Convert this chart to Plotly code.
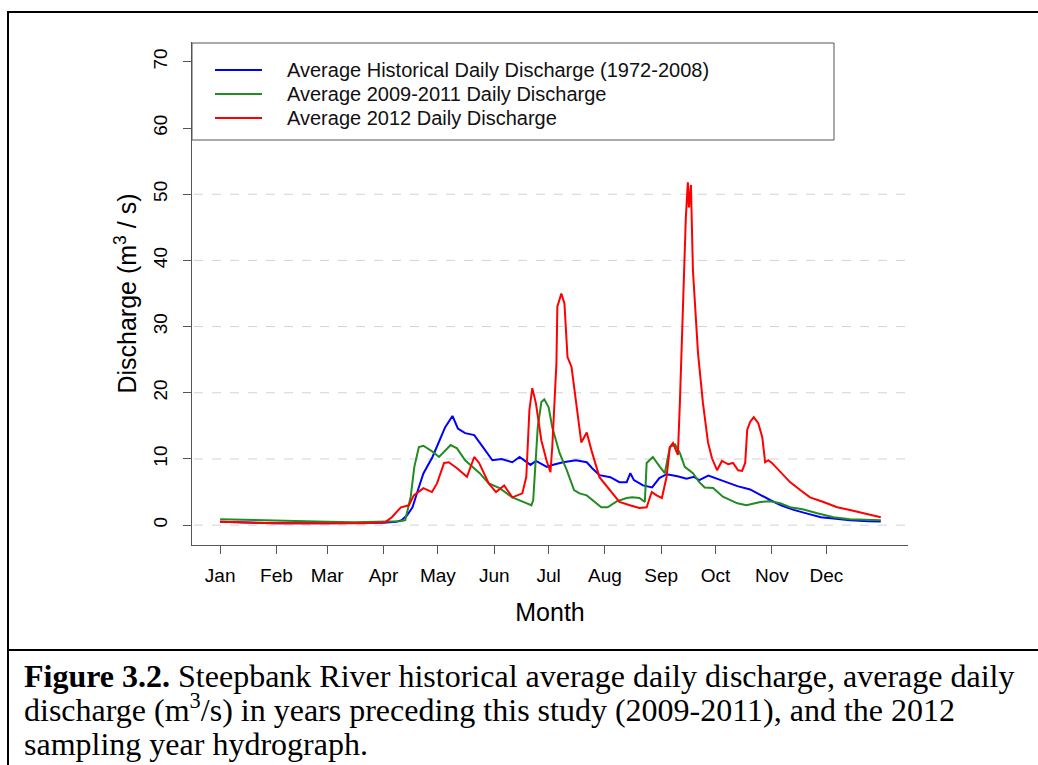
import plotly.graph_objects as go

# ---------------- data (day of year, discharge m3/s) ----------------
month_ticks = [1, 32, 60, 91, 121, 152, 182, 213, 244, 274, 305, 335]
month_labels = ["Jan", "Feb", "Mar", "Apr", "May", "Jun", "Jul", "Aug", "Sep", "Oct", "Nov", "Dec"]
y_ticks = [0, 10, 20, 30, 40, 50, 60, 70]
grid_levels = [0, 10, 20, 30, 40, 50]

hist_days = [1, 15, 32, 60, 80, 91, 98, 101, 104, 107, 110, 113, 118, 122, 125, 129, 132, 136, 141,
             145, 148, 151, 156, 162, 166, 170, 172, 175, 181, 184, 190, 197, 203, 206, 210, 216,
             221, 225, 227, 229, 234, 239, 243, 247, 253, 258, 262, 265, 270, 275, 280, 286, 293,
             299, 304, 310, 317, 325, 332, 339, 348, 358, 365]
hist_vals = [0.5, 0.4, 0.3, 0.3, 0.3, 0.35, 0.5, 0.75, 1.5, 2.7, 5.3, 7.8, 10.3, 12.8, 14.8, 16.5,
             14.6, 13.9, 13.6, 12.1, 10.9, 9.8, 10.0, 9.5, 10.3, 9.5, 9.1, 9.7, 8.8, 9.1, 9.5, 9.8,
             9.5, 8.6, 7.55, 7.25, 6.5, 6.5, 7.85, 6.8, 6.0, 5.7, 7.1, 7.7, 7.4, 7.0, 7.3, 6.8, 7.5,
             7.0, 6.5, 5.9, 5.4, 4.5, 3.8, 3.0, 2.3, 1.7, 1.2, 1.0, 0.75, 0.6, 0.55]

avg0911_days = [1, 27, 50, 60, 75, 92, 100, 103, 106, 108, 110.5, 113, 118, 121.6, 125, 128, 131.5,
                136, 144, 149, 155, 162, 170, 172.5, 173.5, 174.5, 176, 178, 179.6, 182, 184, 188,
                192, 196, 199, 203, 206, 211, 214.5, 219.5, 225, 228, 232, 235, 236, 239.4, 243.3,
                246, 248.8, 251.6, 254.3, 257, 261.5, 265, 268, 272.6, 278, 286, 291, 298.6, 304,
                309.6, 315, 322, 330, 339, 348, 363, 365]
avg0911_vals = [0.9, 0.7, 0.6, 0.5, 0.45, 0.5, 0.6, 0.75, 4.3, 8.8, 11.8, 12.0, 11.1, 10.3, 11.3,
                12.1, 11.6, 9.8, 7.85, 6.3, 5.6, 4.2, 3.3, 3.0, 3.8, 8.8, 14.8, 18.6, 19.0, 17.8,
                14.8, 10.9, 8.3, 5.3, 4.8, 4.5, 3.8, 2.7, 2.7, 3.6, 4.1, 4.2, 4.1, 3.5, 9.4, 10.3,
                8.8, 7.85, 11.8, 12.2, 10.9, 8.8, 7.85, 6.5, 5.7, 5.6, 4.3, 3.3, 3.0, 3.5, 3.6, 3.3,
                2.7, 2.4, 1.8, 1.2, 0.9, 0.75, 0.75]

y2012_days = [1, 15, 32, 60, 80, 92, 95.6, 100.6, 105, 107.7, 113, 117.7, 120.5, 124.4, 127, 131.5,
              137, 141, 143.7, 149, 153, 157.5, 162, 167.5, 169.7, 171.4, 173, 175, 178, 180.8, 183,
              184, 186.3, 186.8, 189, 190.7, 192.4, 194.6, 197.4, 200, 203, 205.6, 210, 215.6, 221,
              226.7, 232, 236, 238.8, 241.5, 244.4, 247, 248.8, 250.5, 253.2, 254.3, 256, 257.6,
              258.7, 259.3, 260.4, 261.5, 264.3, 267, 269.8, 272, 274.8, 277.5, 280.9, 283.6, 286.4,
              288.6, 290.3, 291.4, 293, 295, 297.5, 299.7, 301.3, 303, 305, 309.6, 315, 320.6, 326,
              333.4, 341, 348, 357.7, 365]
y2012_vals = [0.5, 0.4, 0.3, 0.3, 0.3, 0.45, 1.2, 2.7, 3.0, 4.5, 5.6, 5.0, 6.3, 9.4, 9.5, 8.6, 7.3,
              10.3, 9.4, 6.3, 5.0, 6.0, 4.2, 4.8, 7.3, 17.4, 20.7, 18.4, 12.8, 9.8, 8.0, 11.8, 24.5,
              33.0, 35.0, 33.5, 25.4, 23.9, 18.4, 12.5, 14.0, 11.3, 7.25, 5.3, 3.5, 3.0, 2.6, 2.7,
              5.0, 4.5, 4.1, 7.3, 11.8, 12.4, 10.6, 18.4, 32.5, 46.5, 51.8, 48.0, 51.4, 38.5, 26.0,
              18.5, 12.5, 10.1, 8.3, 9.7, 9.2, 9.4, 8.3, 8.2, 9.4, 14.4, 15.6, 16.3, 15.4, 13.3, 9.5,
              9.8, 9.4, 8.0, 6.5, 5.3, 4.2, 3.5, 2.7, 2.3, 1.7, 1.2]

series_names = ["Average Historical Daily Discharge (1972-2008)",
                "Average 2009-2011 Daily Discharge",
                "Average 2012 Daily Discharge"]
series_colors = ["#0000FF", "#228B22", "#FF0000"]

# ---------------- layout geometry (pixels) ----------------
W, H = 1038, 765
L, R, T, B = 192, 908, 42, 545


def px(x):
    return (x - L) / (R - L)


def py(y):
    return (B - y) / (B - T)


fig = go.Figure()
for d, v, n, c in zip([hist_days, avg0911_days, y2012_days],
                      [hist_vals, avg0911_vals, y2012_vals],
                      series_names, series_colors):
    fig.add_trace(go.Scatter(x=d, y=v, mode="lines", name=n,
                             line=dict(color=c, width=2), showlegend=False))

shapes = []
# dashed grid lines
for g in grid_levels:
    shapes.append(dict(type="line", xref="paper", yref="y", x0=px(194), x1=1, y0=g, y1=g,
                       line=dict(color="#D3D3D3", width=1, dash="dash"), layer="below"))
# outer frame and caption separator
shapes.append(dict(type="rect", xref="paper", yref="paper", x0=px(8), x1=px(1060),
                   y0=py(790), y1=py(12), line=dict(color="black", width=2)))
shapes.append(dict(type="line", xref="paper", yref="paper", x0=px(8), x1=px(1060),
                   y0=py(650), y1=py(650), line=dict(color="black", width=2)))
# legend box
shapes.append(dict(type="rect", xref="paper", yref="paper", x0=px(192), x1=px(834),
                   y0=py(140), y1=py(43), line=dict(color="#555555", width=1),
                   fillcolor="white", layer="above"))
annotations = []
rows = [70, 94, 118]
for ry, n, c in zip(rows, series_names, series_colors):
    shapes.append(dict(type="line", xref="paper", yref="paper", x0=px(215), x1=px(262),
                       y0=py(ry), y1=py(ry), line=dict(color=c, width=2), layer="above"))
    annotations.append(dict(x=px(285), y=py(ry), xref="paper", yref="paper", text=n,
                            showarrow=False, xanchor="left", yanchor="middle",
                            font=dict(family="Liberation Sans, Arial", size=20, color="#111111")))

# caption
caption_lines = [
    "<b>Figure 3.2.</b> Steepbank River historical average daily discharge, average daily",
    "discharge (m<sup>3</sup>/s) in years preceding this study (2009-2011), and the 2012",
    "sampling year hydrograph.",
]
for cy, t in zip([676, 708, 744], caption_lines):
    annotations.append(dict(x=px(22), y=py(cy), xref="paper", yref="paper", text=t,
                            showarrow=False, xanchor="left", yanchor="middle",
                            font=dict(family="Liberation Serif, Times New Roman", size=32,
                                      color="black")))

fig.update_layout(
    width=W, height=H,
    margin=dict(l=L, r=W - R, t=T, b=H - B, autoexpand=False),
    paper_bgcolor="white", plot_bgcolor="white",
    font=dict(family="Liberation Sans, Arial", color="black"),
    shapes=shapes, annotations=annotations, showlegend=False,
    xaxis=dict(range=[-14.5, 380], tickmode="array", tickvals=month_ticks, ticktext=month_labels,
               showgrid=False, zeroline=False, showline=True, linecolor="#555555", linewidth=1,
               ticks="outside", ticklen=8, tickcolor="#555555", tickfont=dict(size=19),
               ticklabelstandoff=5,
               title=dict(text="Month", font=dict(size=25), standoff=18)),
    yaxis=dict(range=[-3, 73], tickmode="array", tickvals=y_ticks, tickangle=-90,
               showgrid=False, zeroline=False, showline=True, linecolor="#555555", linewidth=1,
               ticks="outside", ticklen=8, tickcolor="#555555", tickfont=dict(size=19),
               ticklabelstandoff=8,
               title=dict(text="Discharge (m<sup>3</sup> / s)", font=dict(size=25), standoff=6)),
)

fig.write_html("out.html")
